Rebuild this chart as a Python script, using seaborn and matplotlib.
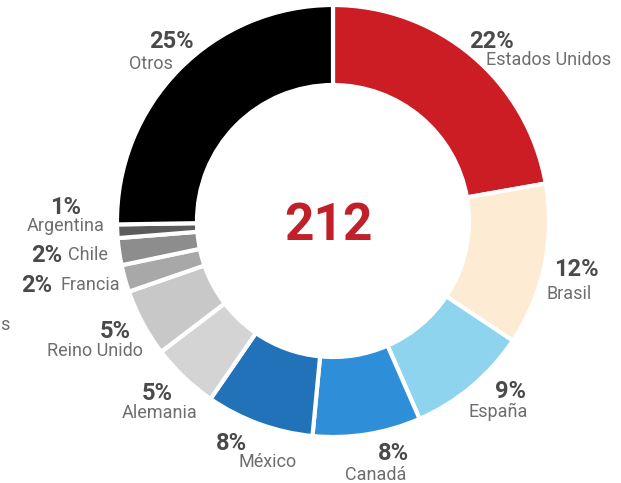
import matplotlib
matplotlib.use("Agg")
import matplotlib.pyplot as plt
import seaborn as sns

# data
countries = ["Estados Unidos", "Brasil", "España", "Canadá", "México", "Alemania",
             "Reino Unido", "Francia", "Chile", "Argentina", "Otros"]
shares = [22, 12, 9, 8, 8, 5, 5, 2, 2, 1, 25]
pct_labels = [f"{v}%" for v in shares]
total = 212

colors = ["#cc1d25", "#fdebd3", "#8ed4ee", "#2e8fd8", "#2172b8", "#d4d4d4",
          "#c8c8c8", "#a8a8a8", "#8d8d8d", "#5c5c5c", "#000000"]

sns.set_theme(style="white")
plt.rcParams["font.family"] = ["Roboto", "DejaVu Sans"]

W, H = 621, 483
fig = plt.figure(figsize=(W / 100, H / 100), dpi=100)
ax = fig.add_axes([0, 0, 1, 1])

cx, cy, r_out, ring = 333, 221, 216, 80
ax.pie(shares, colors=colors, startangle=90, counterclock=False,
       center=(cx, H - cy), radius=r_out,
       wedgeprops=dict(width=ring, edgecolor="white", linewidth=3))
ax.set_xlim(0, W)
ax.set_ylim(0, H)
ax.set_aspect("equal")
ax.axis("off")

# label layout in pixel coords (top-left origin): pct pos, name pos, alignment
label_pos = {
    "Otros": ((171, 42, "center"), (151, 64, "center")),
    "Estados Unidos": ((491, 41, "center"), (549, 60, "center")),
    "Brasil": ((576, 270, "center"), (569, 294, "center")),
    "España": ((510, 392, "center"), (498, 412, "center")),
    "Canadá": ((393, 454, "center"), (376, 475, "center")),
    "México": ((231, 443, "center"), (268, 462, "center")),
    "Alemania": ((157, 394, "center"), (160, 413, "center")),
    "Reino Unido": ((115, 331, "center"), (95, 351, "center")),
    "Francia": ((52, 285, "right"), (60, 285, "left")),
    "Chile": ((62, 255, "right"), (68, 255, "left")),
    "Argentina": ((66, 207, "center"), (66, 226, "center")),
}

for name, pct in zip(countries, pct_labels):
    (px, py, pha), (nx, ny, nha) = label_pos[name]
    ax.text(px, H - py, pct, ha=pha, va="center", fontsize=17,
            fontweight="bold", color="#4a4a4a")
    ax.text(nx, H - ny, name, ha=nha, va="center", fontsize=13,
            color="#6e6e6e")

# cropped label at the left edge
ax.text(5, H - 325, "s", ha="center", va="center", fontsize=13, color="#6e6e6e")

ax.text(328, H - 226, str(total), ha="center", va="center", fontsize=37,
        fontweight="bold", color="#c0202a")

fig.savefig("out.png", dpi=100)
